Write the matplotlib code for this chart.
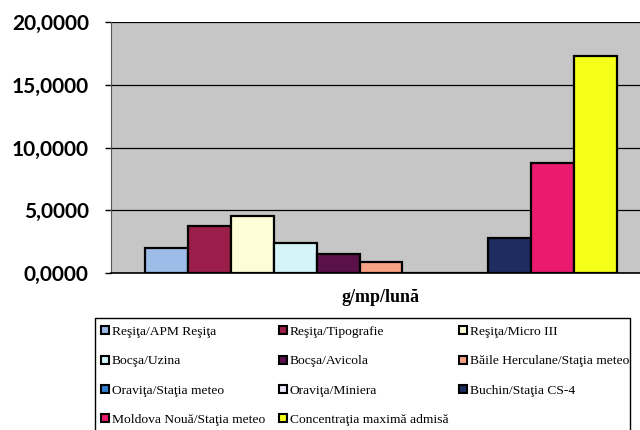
import matplotlib
matplotlib.use("Agg")
import matplotlib.pyplot as plt
from matplotlib.patches import Rectangle
import numpy as np

# data (one category, eleven stations)
stations = [
    "Reşiţa/APM Reşiţa",
    "Reşiţa/Tipografie",
    "Reşiţa/Micro III",
    "Bocşa/Uzina",
    "Bocşa/Avicola",
    "Băile Herculane/Staţia meteo",
    "Oraviţa/Staţia meteo",
    "Oraviţa/Miniera",
    "Buchin/Staţia CS-4",
    "Moldova Nouă/Staţia meteo",
    "Concentraţia maximă admisă",
]
values = [1.99, 3.78, 4.55, 2.38, 1.53, 0.87, 0.0, 0.0, 2.78, 8.74, 17.27]
colors = ["#9DBCE8", "#9B1E4A", "#FFFDD8", "#D4F4FA", "#5A1048", "#F7A284",
          "#3080D0", "#E8E8F8", "#1E2D60", "#EC1A6E", "#F5FF1A"]
yticks = [0, 5, 10, 15, 20]
ytick_labels = ["0,0000", "5,0000", "10,0000", "15,0000", "20,0000"]

fig = plt.figure(figsize=(6.4, 4.3), dpi=100)
ax = fig.add_axes([111/640, 1-273/430, 540/640, 251/430])
ax.set_facecolor("#C6C6C6")

n = len(values)
w = 472/540/n
xs = (np.arange(n) - (n-1)/2) * w
for x, v, c in zip(xs, values, colors):
    ax.bar(x, v, width=w, color=c, edgecolor="black", linewidth=1.6, zorder=3)

ax.set_xlim(-0.5, 0.5)
ax.set_ylim(0, 20)
ax.set_xticks([])
ax.set_yticks(yticks)
ax.set_yticklabels(ytick_labels, fontfamily="Lato", fontweight="bold", fontsize=15)
ax.tick_params(axis="y", length=4, width=1, pad=12)
ax.yaxis.grid(True, color="black", linewidth=0.9, zorder=1)
ax.set_axisbelow(True)
for s in ["top", "right"]:
    ax.spines[s].set_visible(False)
ax.spines["left"].set_color("#555555")
ax.spines["bottom"].set_linewidth(1.2)

fig.text(381/640, 1-297/430, "g/mp/lună", family="Liberation Serif",
         fontweight="bold", fontsize=13, ha="center", va="center")

# legend: three columns, filled row by row as in the picture
handles = [plt.Line2D([], [], marker="s", linestyle="none", markersize=6,
                      markerfacecolor=c, markeredgecolor="black",
                      markeredgewidth=1.5) for c in colors]
col_x = [97, 275, 455]
for k in range(3):
    idx = list(range(k, n, 3))
    fig.legend([handles[i] for i in idx], [stations[i] for i in idx],
               loc="upper left", bbox_to_anchor=(col_x[k]/640, 1-323/430),
               frameon=False, prop={"family": "Liberation Serif", "size": 9.7},
               handlelength=0.8, handletextpad=0.1,
               labelspacing=1.25, borderaxespad=0, borderpad=0.2)
fig.patches.append(Rectangle((95/640, -0.05), (630-95)/640, 0.05+1-318/430,
                             transform=fig.transFigure, fill=False,
                             edgecolor="black", linewidth=1))

fig.savefig("out.png", dpi=100)
